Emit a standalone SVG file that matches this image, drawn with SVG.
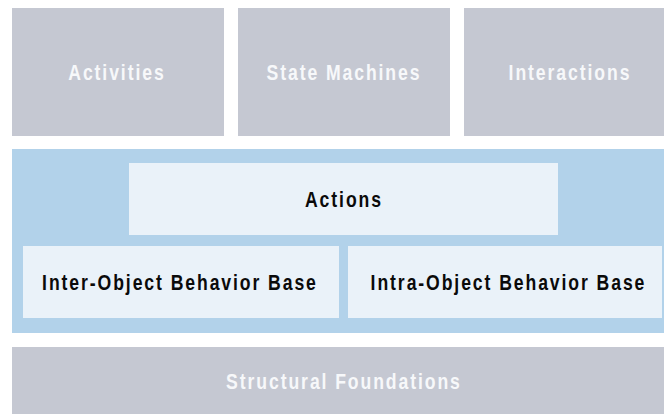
<svg xmlns="http://www.w3.org/2000/svg" width="664" height="414" viewBox="0 0 664 414">
<style>
.g{fill:#c5c8d2}
.band{fill:#b2d2ea}
.l{fill:#eaf2f9}
text{font-family:"Liberation Sans",Arial,sans-serif;font-weight:bold;font-size:22px;letter-spacing:2.4px;text-anchor:middle}
.w{fill:#f7f8fa}
.k{fill:#0a0a0a}
</style>
<rect width="664" height="414" fill="#ffffff"/>
<g id="activities"><rect class="g" x="12" y="8" width="212" height="128"/><text class="w" x="1.2" transform="translate(116,79.5) scale(0.8,1)">Activities</text></g>
<g id="state-machines"><rect class="g" x="238" y="8" width="212" height="128"/><text class="w" x="1.2" transform="translate(343,79.5) scale(0.8,1)">State Machines</text></g>
<g id="interactions"><rect class="g" x="464" y="8" width="210" height="128"/><text class="w" x="1.2" transform="translate(569,79.5) scale(0.8,1)">Interactions</text></g>
<g id="behavior-band"><rect class="band" x="12" y="149" width="662" height="184"/></g>
<g id="actions"><rect class="l" x="129" y="163" width="429" height="72"/><text class="k" x="1.2" transform="translate(343,206.5) scale(0.8,1)">Actions</text></g>
<g id="inter-object"><rect class="l" x="23" y="246" width="316" height="72"/><text class="k" x="1.2" transform="translate(179,290) scale(0.8,1)">Inter-Object Behavior Base</text></g>
<g id="intra-object"><rect class="l" x="348" y="246" width="314" height="72"/><text class="k" x="1.2" transform="translate(507.5,290) scale(0.8,1)">Intra-Object Behavior Base</text></g>
<g id="structural-foundations"><rect class="g" x="12" y="347" width="662" height="80"/><text class="w" x="1.2" transform="translate(343,388.5) scale(0.8,1)">Structural Foundations</text></g>
<g id="connectors"></g>
</svg>
